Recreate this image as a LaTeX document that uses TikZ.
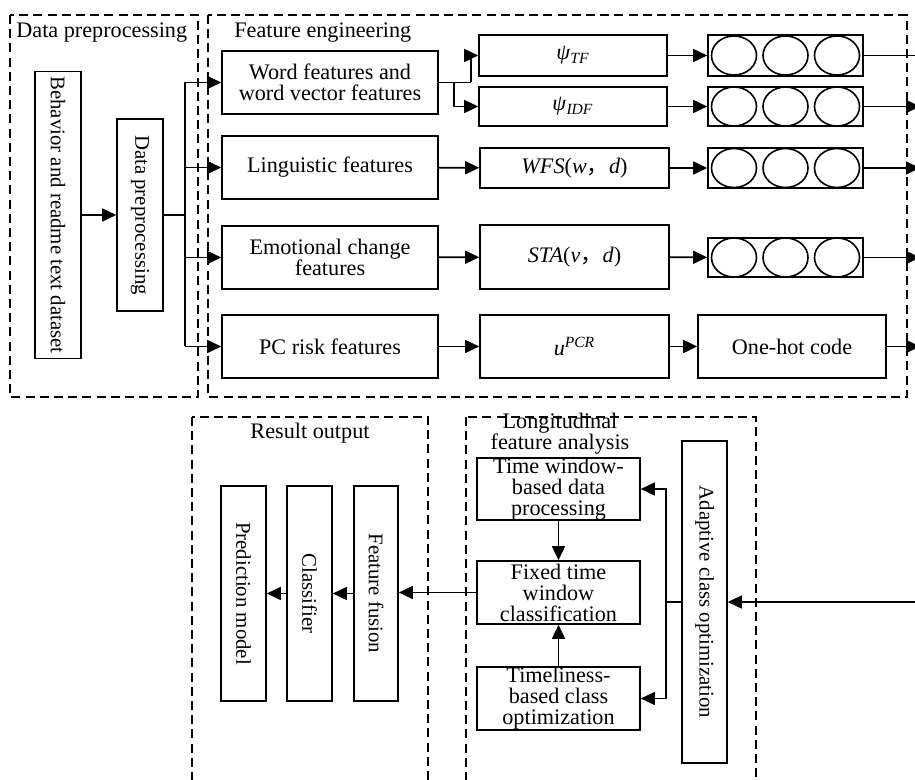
\documentclass[tikz,border=0pt]{standalone}
\usepackage{fontspec}
\setmainfont{Liberation Serif}
\newfontfamily\cjk{Noto Sans CJK SC}
\usetikzlibrary{arrows.meta}

\newcommand{\hfont}{\fontsize{11.1}{10.5}\selectfont}
\newcommand{\vfont}{\fontsize{10.4}{10}\selectfont}
\newcommand{\fwcomma}{{\cjk ，}}

\begin{document}
\begin{tikzpicture}[x=0.5pt, y=-0.5pt]

  % ---- styles ----
  \tikzset{
    blk/.style={draw, line width=0.8pt, align=center, inner sep=0pt, font=\hfont},
    vblk/.style={blk, rotate=-90, font=\vfont},
    sz/.style 2 args={minimum width=#1*0.5pt, minimum height=#2*0.5pt},
    zone/.style={line width=0.7pt, dash pattern=on 4.5pt off 2.6pt},
    arr/.style={line width=0.8pt, -{Triangle[length=7pt, width=6.5pt]}},
    lnk/.style={line width=0.8pt},
    lbl/.style={font=\hfont, inner sep=0pt},
  }

  \useasboundingbox (0,0) rectangle (915,780);

  % ---- dashed zones ----
  \draw[zone] (10,15) rectangle (198,397);
  \draw[zone] (208,15) rectangle (907,397);
  \draw[zone] (192,417) rectangle (428,800);
  \draw[zone] (466,417) rectangle (756,800);

  \node[lbl, anchor=west] (lblpre) at (16,33) {Data preprocessing};
  \node[lbl, anchor=west] (lblfeat) at (234,33) {Feature engineering};
  \node[lbl] (lblres) at (310,433) {Result output};
  \node[lbl, align=center] (lbllong) at (560,434) {Longitudinal\\feature analysis};

  % ---- data preprocessing ----
  \node[vblk, sz={287}{46}] (beh) at (58,215) {Behavior and readme text dataset};
  \node[vblk, sz={192}{46}] (dpre) at (140,215) {Data preprocessing};

  % ---- feature boxes ----
  \node[blk, sz={216}{63}] (wordf) at (330,82.5) {Word features and\\word vector features};
  \node[blk, sz={216}{63}] (lingf) at (330,167.5) {Linguistic features};
  \node[blk, sz={216}{63}] (emof) at (330,257.5) {Emotional change\\features};
  \node[blk, sz={216}{63}] (pcf) at (330,346.5) {PC risk features};

  % ---- measures ----
  \node[blk, sz={188}{41}] (tfm) at (573,55.5) {\textit{ψ}\textsubscript{\textit{TF}}};
  \node[blk, sz={188}{39}] (idfm) at (573,106.5) {\textit{ψ}\textsubscript{\textit{IDF}}};
  \node[blk, sz={189}{40}] (wfsm) at (574.5,168) {\textit{WFS}(\textit{w}\fwcomma\textit{d})};
  \node[blk, sz={189}{64}] (stam) at (574.5,257) {\textit{STA}(\textit{v}\fwcomma\textit{d})};
  \node[blk, sz={189}{63}] (pcrm) at (574.5,346.5) {\textit{u}\textsuperscript{\textit{PCR}}};

  % ---- vector cells ----
  \node[blk, sz={155}{41}] (tfvec) at (785.5,55.5) {};
  \node[blk, sz={155}{39}] (idfvec) at (785.5,106.5) {};
  \node[blk, sz={155}{40}] (wfsvec) at (785.5,168) {};
  \node[blk, sz={155}{39}] (stavec) at (785.5,257.5) {};
  \node[blk, sz={188}{63}] (onehot) at (792,346.5) {One-hot code};

  \foreach \v in {tfvec, idfvec, wfsvec, stavec}
    \foreach \dx in {-51.5, 0, 51.5}
      \draw[lnk] ([xshift=\dx*0.5pt]\v.center) ellipse [x radius=22.5, y radius=19.5];

  % ---- longitudinal analysis ----
  \node[blk, sz={163}{62}] (twin) at (558.5,489) {Time window-\\based data\\processing};
  \node[blk, sz={163}{63}] (ftw) at (558.5,592.5) {Fixed time\\window\\classification};
  \node[blk, sz={163}{63}] (tlo) at (558.5,698.5) {Timeliness-\\based class\\optimization};
  \node[vblk, sz={322}{45}] (ada) at (704.5,602) {Adaptive class optimization};

  % ---- result output ----
  \node[vblk, sz={215}{44}] (fuse) at (376,593.5) {Feature fusion};
  \node[vblk, sz={215}{45}] (clsf) at (309.5,593.5) {Classifier};
  \node[vblk, sz={215}{45}] (pred) at (243.5,593.5) {Prediction model};

  % ---- helper points ----
  \coordinate (dsplit) at ([xshift=10.5pt]dpre.north);
  \coordinate (wsplit) at ([xshift=7.5pt]wordf.east);
  \coordinate (wturn) at ([xshift=16pt]wordf.east);
  \coordinate (redge) at (920,0);
  \coordinate (ain) at (915,602);
  \coordinate (ajunc) at ([xshift=-7.5pt]ada.south);

  % ---- connectors: top ----
  \draw[arr] (beh.north) -- (dpre.south);
  \draw[lnk] (dpre.north) -- (dsplit);
  \draw[lnk] (dsplit |- wordf.west) -- (dsplit |- pcf.west);
  \foreach \f in {wordf, lingf, emof, pcf}
    \draw[arr] (dsplit |- \f.west) -- (\f.west);

  \draw[lnk] (wordf.east) -- (wturn);
  \draw[arr] (wturn) |- (tfm.west);
  \draw[arr] (wsplit) |- (idfm.west);
  \draw[arr] (lingf) -- (wfsm);
  \draw[arr] (emof) -- (stam);
  \draw[arr] (pcf) -- (pcrm);

  \draw[arr] (tfm) -- (tfvec);
  \draw[arr] (idfm) -- (idfvec);
  \draw[arr] (wfsm) -- (wfsvec);
  \draw[arr] (stam) -- (stavec);
  \draw[arr] (pcrm) -- (onehot);

  \draw[lnk] (tfvec.east) -- (tfvec.east -| redge);
  \foreach \v in {idfvec, wfsvec, stavec, onehot}
    \draw[arr] (\v.east) -- (\v.east -| redge);

  % ---- connectors: bottom ----
  \draw[arr] (ain) -- (ada.north);
  \draw[lnk] (ada.south) -- (ajunc);
  \draw[arr] (ajunc) |- (twin.east);
  \draw[arr] (ajunc) |- (tlo.east);
  \draw[arr] (twin) -- (ftw);
  \draw[arr] (tlo) -- (ftw);
  \draw[arr] (ftw.west) -- (ftw.west -| fuse.north);
  \draw[arr] (fuse.south) -- (fuse.south -| clsf.north);
  \draw[arr] (clsf.south) -- (clsf.south -| pred.north);

\end{tikzpicture}
\end{document}
